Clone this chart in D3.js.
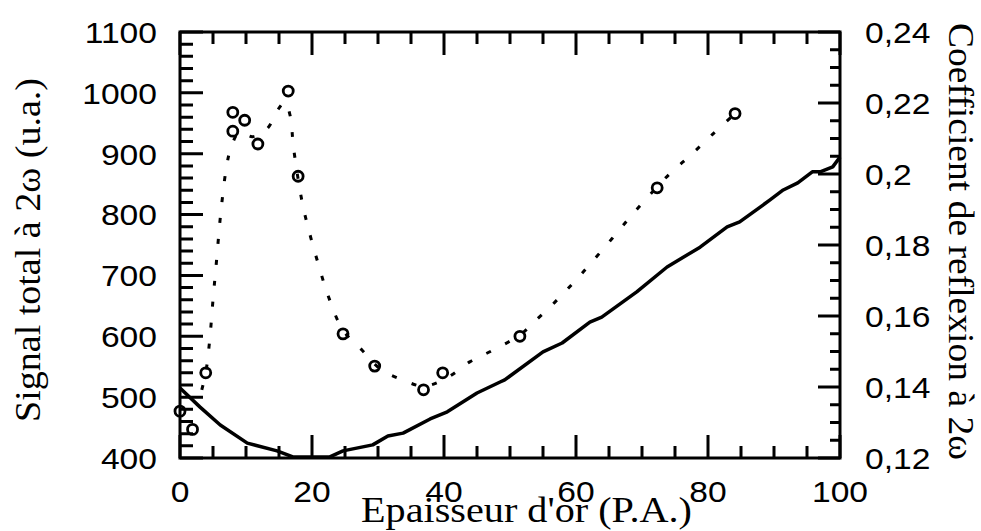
<!DOCTYPE html>
<html>
<head>
<meta charset="utf-8">
<script src="https://cdn.jsdelivr.net/npm/d3@7"></script>
<style>
  html, body { margin: 0; padding: 0; background: #fff; }
  svg { display: block; }
  .lbl { font-family: "Liberation Sans", Arial, sans-serif; font-size: 30px; fill: #000; }
  .title { font-family: "Liberation Serif", "Times New Roman", serif; font-size: 36px; fill: #000; }
</style>
</head>
<body>
<svg id="chart" width="981" height="531"></svg>
<script>
// ---- data ----
const thickness = [0, 1.9, 3.9, 8.0, 9.8, 8.0, 11.8, 16.4, 17.9, 24.7, 29.5, 36.9, 39.8, 51.5, 72.3, 84.1];
const signal    = [477, 447, 540, 968, 955, 937, 916, 1003, 863, 604, 551, 512, 540, 600, 844, 966];

const fitX = [3.3, 3.9, 4.5, 5.0, 5.5, 6.2, 7.0, 7.7, 9.0, 11.0, 13.2, 15.0, 15.9, 16.7, 17.2, 18.5, 19.5, 21.0, 22.5, 24.7, 27.6, 30.5, 33.8, 37.0, 40.5, 43.9, 47.2, 51.5, 53.5, 56.7, 59.7, 62.4, 65.5, 68.2, 70.9, 74.2, 77.4, 80.6, 84.0];
const fitY = [512, 540, 594, 660, 720, 805, 875, 909, 935, 928, 941, 975, 985, 962, 910, 821, 775, 717, 665, 610, 577, 545, 528, 518, 532, 558, 576, 602, 622, 655, 689, 722, 761, 796, 829, 867, 898, 931, 965];

const reflX = [0, 3.0, 6.1, 10.2, 14.7, 17.1, 22.7, 24.7, 29.2, 31.5, 33.8, 37.9, 40.5, 45.0, 48.5, 49.2, 55.0, 57.9, 62.1, 63.9, 69.2, 73.8, 78.8, 82.9, 84.8, 89.4, 91.4, 93.6, 95.8, 97.0, 98.9, 100];
const reflY = [0.1397, 0.1344, 0.1293, 0.1242, 0.1220, 0.1203, 0.1203, 0.1220, 0.1237, 0.1262, 0.1270, 0.1310, 0.1330, 0.1383, 0.1414, 0.1420, 0.1499, 0.1524, 0.1583, 0.1597, 0.1668, 0.1738, 0.1794, 0.1851, 0.1865, 0.1927, 0.1955, 0.1975, 0.2006, 0.2006, 0.2020, 0.2048];

const xTicks = [0, 20, 40, 60, 80, 100];
const xLabels = ["0", "20", "40", "60", "80", "100"];
const yLeftTicks = [400, 500, 600, 700, 800, 900, 1000, 1100];
const yLeftLabels = ["400", "500", "600", "700", "800", "900", "1000", "1100"];
const yRightTicks = [0.12, 0.14, 0.16, 0.18, 0.20, 0.22, 0.24];
const yRightLabels = ["0,12", "0,14", "0,16", "0,18", "0,2", "0,22", "0,24"];

const xTitle = "Epaisseur d'or (P.A.)";
const yLeftTitle = "Signal total à 2ω  (u.a.)";
const yRightTitle = "Coefficient de reflexion à 2ω";

// ---- layout ----
const L = 180, R = 840, T = 32, B = 458;
const svg = d3.select("#chart");

const x = d3.scaleLinear().domain([0, 100]).range([L, R]);
const yL = d3.scaleLinear().domain([400, 1100]).range([B, T]);
const yR = d3.scaleLinear().domain([0.12, 0.24]).range([B, T]);

const xMinor = d3.range(0, 100.001, 5).filter(v => v % 20 !== 0);
const yLMinor = d3.range(400, 1100.001, 20).filter(v => v % 100 !== 0);
const yRMinor = d3.range(0, 25).map(i => +(0.12 + i * 0.005).toFixed(4)).filter(v => Math.round(v * 1000) % 20 !== 0);

// frame
svg.append("rect").attr("x", L).attr("y", T).attr("width", R - L).attr("height", B - T)
  .attr("fill", "none").attr("stroke", "#000").attr("stroke-width", 3);

// tick labels
function stretch(sel) {
  sel.each(function () {
    const w = this.getComputedTextLength();
    d3.select(this).attr("textLength", w * 1.12).attr("lengthAdjust", "spacingAndGlyphs");
  });
}
svg.append("g").selectAll("text").data(xTicks).join("text").attr("class", "lbl")
  .attr("x", d => x(d)).attr("y", 502).attr("text-anchor", "middle")
  .text((d, i) => xLabels[i]).call(stretch);
svg.append("g").selectAll("text").data(yLeftTicks).join("text").attr("class", "lbl")
  .attr("x", 157).attr("y", d => yL(d)).attr("dy", "0.36em").attr("text-anchor", "end")
  .text((d, i) => yLeftLabels[i]).call(stretch);
svg.append("g").selectAll("text").data(yRightTicks).join("text").attr("class", "lbl")
  .attr("x", 865).attr("y", d => yR(d)).attr("dy", "0.36em").attr("text-anchor", "start")
  .text((d, i) => yRightLabels[i]).call(stretch);

// reflection coefficient (solid)
const reflData = reflX.map((v, i) => [v, reflY[i]]);
svg.append("path").datum(reflData)
  .attr("fill", "none").attr("stroke", "#000").attr("stroke-width", 3.5).attr("stroke-linejoin", "round")
  .attr("d", d3.line().x(d => x(d[0])).y(d => yR(d[1])));

// fit curve (dotted)
const fitData = fitX.map((v, i) => [v, fitY[i]]);
svg.append("path").datum(fitData)
  .attr("fill", "none").attr("stroke", "#000").attr("stroke-width", 3)
  .attr("stroke-dasharray", "5,16")
  .attr("d", d3.line().curve(d3.curveCatmullRom.alpha(0.5)).x(d => x(d[0])).y(d => yL(d[1])));

// measured signal (circles)
svg.append("g").selectAll("circle").data(thickness.map((v, i) => [v, signal[i]])).join("circle")
  .attr("cx", d => x(d[0])).attr("cy", d => yL(d[1])).attr("r", 5)
  .attr("fill", "none").attr("stroke", "#000").attr("stroke-width", 2.8);

// ticks: one path per axis set, positioned through the scales, pointing inward
function vTickPath(vals, y0, len) {
  return vals.map(v => `M${x(v)},${y0}V${y0 + len}`).join("");
}
function hTickPath(vals, scale, x0, len) {
  return vals.map(v => `M${x0},${scale(v)}H${x0 + len}`).join("");
}
const tickD = vTickPath(xTicks, B, -23) + vTickPath(xMinor, B, -12) +
  vTickPath(xTicks, T, 23) + vTickPath(xMinor, T, 12) +
  hTickPath(yLeftTicks, yL, L, 23) + hTickPath(yLMinor, yL, L, 13) +
  hTickPath(yRightTicks, yR, R, -22) + hTickPath(yRMinor, yR, R, -10);
svg.append("path").attr("d", tickD)
  .attr("fill", "none").attr("stroke", "#000").attr("stroke-width", 3);

// titles
svg.append("text").attr("class", "title")
  .attr("x", 361).attr("y", 522)
  .attr("textLength", 331).attr("lengthAdjust", "spacingAndGlyphs")
  .text(xTitle);
svg.append("text").attr("class", "title")
  .attr("transform", "translate(40,422) rotate(-90)")
  .attr("textLength", 344).attr("lengthAdjust", "spacingAndGlyphs")
  .text(yLeftTitle);
svg.append("text").attr("class", "title")
  .attr("transform", "translate(949,23) rotate(90)")
  .attr("textLength", 437).attr("lengthAdjust", "spacingAndGlyphs")
  .text(yRightTitle);
</script>
</body>
</html>
